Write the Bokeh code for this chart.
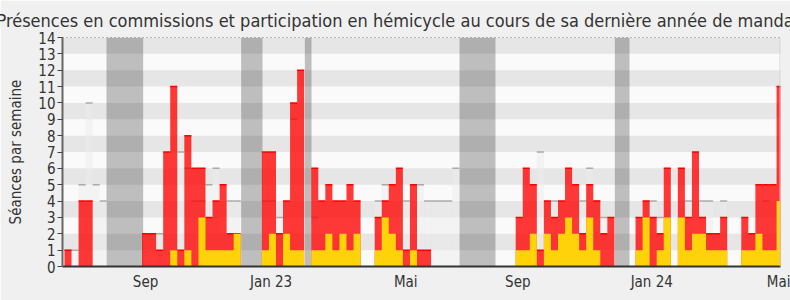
from bokeh.plotting import figure
from bokeh.models import Range1d, FixedTicker, Span
from bokeh.embed import file_html
from bokeh.resources import INLINE

# ---- data (one entry per week) ----
WEEKS = list(range(102))
RED = [1, 0, 4, 4, 0, 0, 0, 0, 0, 0, 0, 2, 2, 1, 7, 11, 1, 8, 6, 6,
       3, 4, 5, 2, 2, 0, 0, 0, 7, 7, 2, 4, 10, 12, 0, 6, 4, 5, 4, 4,
       5, 4, 0, 0, 3, 4, 5, 6, 1, 5, 1, 1, 0, 0, 0, 0, 0, 0, 0, 0,
       0, 0, 0, 0, 3, 6, 5, 1, 4, 3, 4, 6, 5, 2, 5, 4, 2, 3, 0, 0,
       0, 3, 4, 3, 2, 6, 0, 6, 3, 7, 3, 2, 2, 3, 0, 0, 3, 2, 5, 5,
       5, 11]
YELLOW = [0, 0, 0, 0, 0, 0, 0, 0, 0, 0, 0, 0, 0, 0, 0, 1, 0, 1, 0, 3,
          1, 1, 1, 1, 2, 0, 0, 0, 1, 2, 0, 2, 1, 1, 0, 1, 1, 2, 1, 2,
          1, 2, 0, 0, 1, 3, 2, 1, 0, 1, 0, 0, 0, 0, 0, 0, 0, 0, 0, 0,
          0, 0, 0, 0, 1, 1, 2, 0, 2, 1, 2, 3, 2, 1, 3, 1, 0, 0, 0, 0,
          0, 1, 3, 0, 1, 3, 0, 3, 1, 2, 2, 1, 1, 1, 0, 0, 1, 1, 2, 1,
          1, 4]
GREY = [1, 1, 5, 10, 5, 4, 0, 0, 0, 0, 0, 0, 0, 2, 0, 0, 7, 6, 4, 4,
        5, 6, 0, 4, 4, 0, 0, 0, 4, 4, 3, 0, 9, 0, 0, 3, 0, 0, 0, 0,
        0, 0, 0, 0, 4, 5, 0, 0, 4, 0, 5, 4, 4, 4, 4, 6, 0, 0, 0, 0,
        0, 0, 0, 0, 0, 0, 0, 7, 0, 4, 0, 0, 0, 4, 6, 4, 3, 0, 0, 0,
        0, 0, 0, 4, 3, 0, 0, 0, 4, 0, 4, 4, 0, 4, 0, 0, 0, 0, 0, 4,
        0, 0]
VAC_START = [5.96, 25.06, 34.09, 56.03, 78.06]
VAC_END = [11.16, 28.09, 35.04, 61.13, 80.14]
TICK_POS = [11.5, 29.3, 48.4, 64.3, 83.3, 101.5]
TICK_LAB = ["Sep", "Jan 23", "Mai", "Sep", "Jan 24", "Mai"]
Y_TICKS = list(range(15))

FONT = "DejaVu Sans Condensed"

p = figure(width=790, height=300, output_backend="svg", toolbar_location=None,
           x_range=Range1d(-0.28, 101.56), y_range=Range1d(0, 14),
           min_border_left=62, min_border_right=10, min_border_top=36,
           min_border_bottom=34)
p.border_fill_color = "#f0f0f0"
p.background_fill_color = "#fafafa"
p.outline_line_color = None
p.grid.visible = False

p.title.text = ("Présences en commissions et participation en hémicycle "
                "au cours de sa dernière année de mandat")
p.title.align = "left"
p.title.offset = -66
p.title.standoff = 14
p.title.text_font = FONT
p.title.text_font_size = "18px"
p.title.text_font_style = "normal"
p.title.text_color = "#333333"

# alternating bands
band_b = [t for t in Y_TICKS[:-1] if t % 2 == 1]
p.quad(left=-5, right=110, bottom=band_b, top=[b + 1 for b in band_b],
       fill_color="#e6e6e6", line_color=None)

# vacation periods
p.quad(left=VAC_START, right=VAC_END, bottom=0, top=14,
       fill_color="black", fill_alpha=0.24, line_color=None)

left = WEEKS
right = [w + 1 for w in WEEKS]

# grey series
gi = [i for i, g in enumerate(GREY) if g > 0]
p.quad(left=[left[i] for i in gi], right=[right[i] for i in gi], bottom=0,
       top=[GREY[i] for i in gi], fill_color="#ececec", fill_alpha=0.5,
       line_color=None)
p.segment(x0=[left[i] for i in gi], x1=[right[i] for i in gi],
          y0=[GREY[i] for i in gi], y1=[GREY[i] for i in gi],
          line_color="#aaaaaa", line_width=1.5)

xs = WEEKS + [WEEKS[-1] + 1]
p.varea_step(x=xs, y1=[0] * len(xs), y2=RED + [RED[-1]], step_mode="after",
             fill_color="#ff0000", fill_alpha=0.78)
ri = [i for i, r in enumerate(RED) if r > 0]
p.segment(x0=[left[i] for i in ri], x1=[right[i] for i in ri],
          y0=[RED[i] for i in ri], y1=[RED[i] for i in ri],
          line_color="#ff0000", line_width=1.5)
p.varea_step(x=xs, y1=[0] * len(xs), y2=YELLOW + [YELLOW[-1]],
             step_mode="after", fill_color="#ffd20a")

p.add_layout(Span(location=14, dimension="width", line_color="black",
                  line_width=1, line_dash="1 3"))
p.add_layout(Span(location=101.5, dimension="height", line_color="#cccccc",
                  line_width=1))

# axes
ya = p.yaxis[0]
ya.ticker = FixedTicker(ticks=Y_TICKS)
ya.minor_tick_line_color = None
ya.major_tick_out = 5
ya.major_tick_in = 0
ya.major_tick_line_color = "#444444"
ya.axis_line_color = "#666666"
ya.axis_line_width = 2
ya.major_label_standoff = 2
ya.major_label_text_font = FONT
ya.major_label_text_font_size = "15px"
ya.major_label_text_color = "#333333"
ya.axis_label = "Séances par semaine"
ya.axis_label_text_font = FONT
ya.axis_label_text_font_size = "15px"
ya.axis_label_text_font_style = "normal"
ya.axis_label_text_color = "#333333"
ya.axis_label_standoff = 10

xa = p.xaxis[0]
xa.ticker = FixedTicker(ticks=TICK_POS)
xa.major_label_overrides = {t: l for t, l in zip(TICK_POS, TICK_LAB)}
xa.minor_tick_line_color = None
xa.major_tick_line_color = None
xa.major_tick_out = 0
xa.major_tick_in = 0
xa.axis_line_color = "#333333"
xa.axis_line_width = 2
xa.major_label_standoff = 6
xa.major_label_text_font = FONT
xa.major_label_text_font_size = "15px"
xa.major_label_text_color = "#333333"

open("out.html", "w").write(file_html(p, INLINE))
